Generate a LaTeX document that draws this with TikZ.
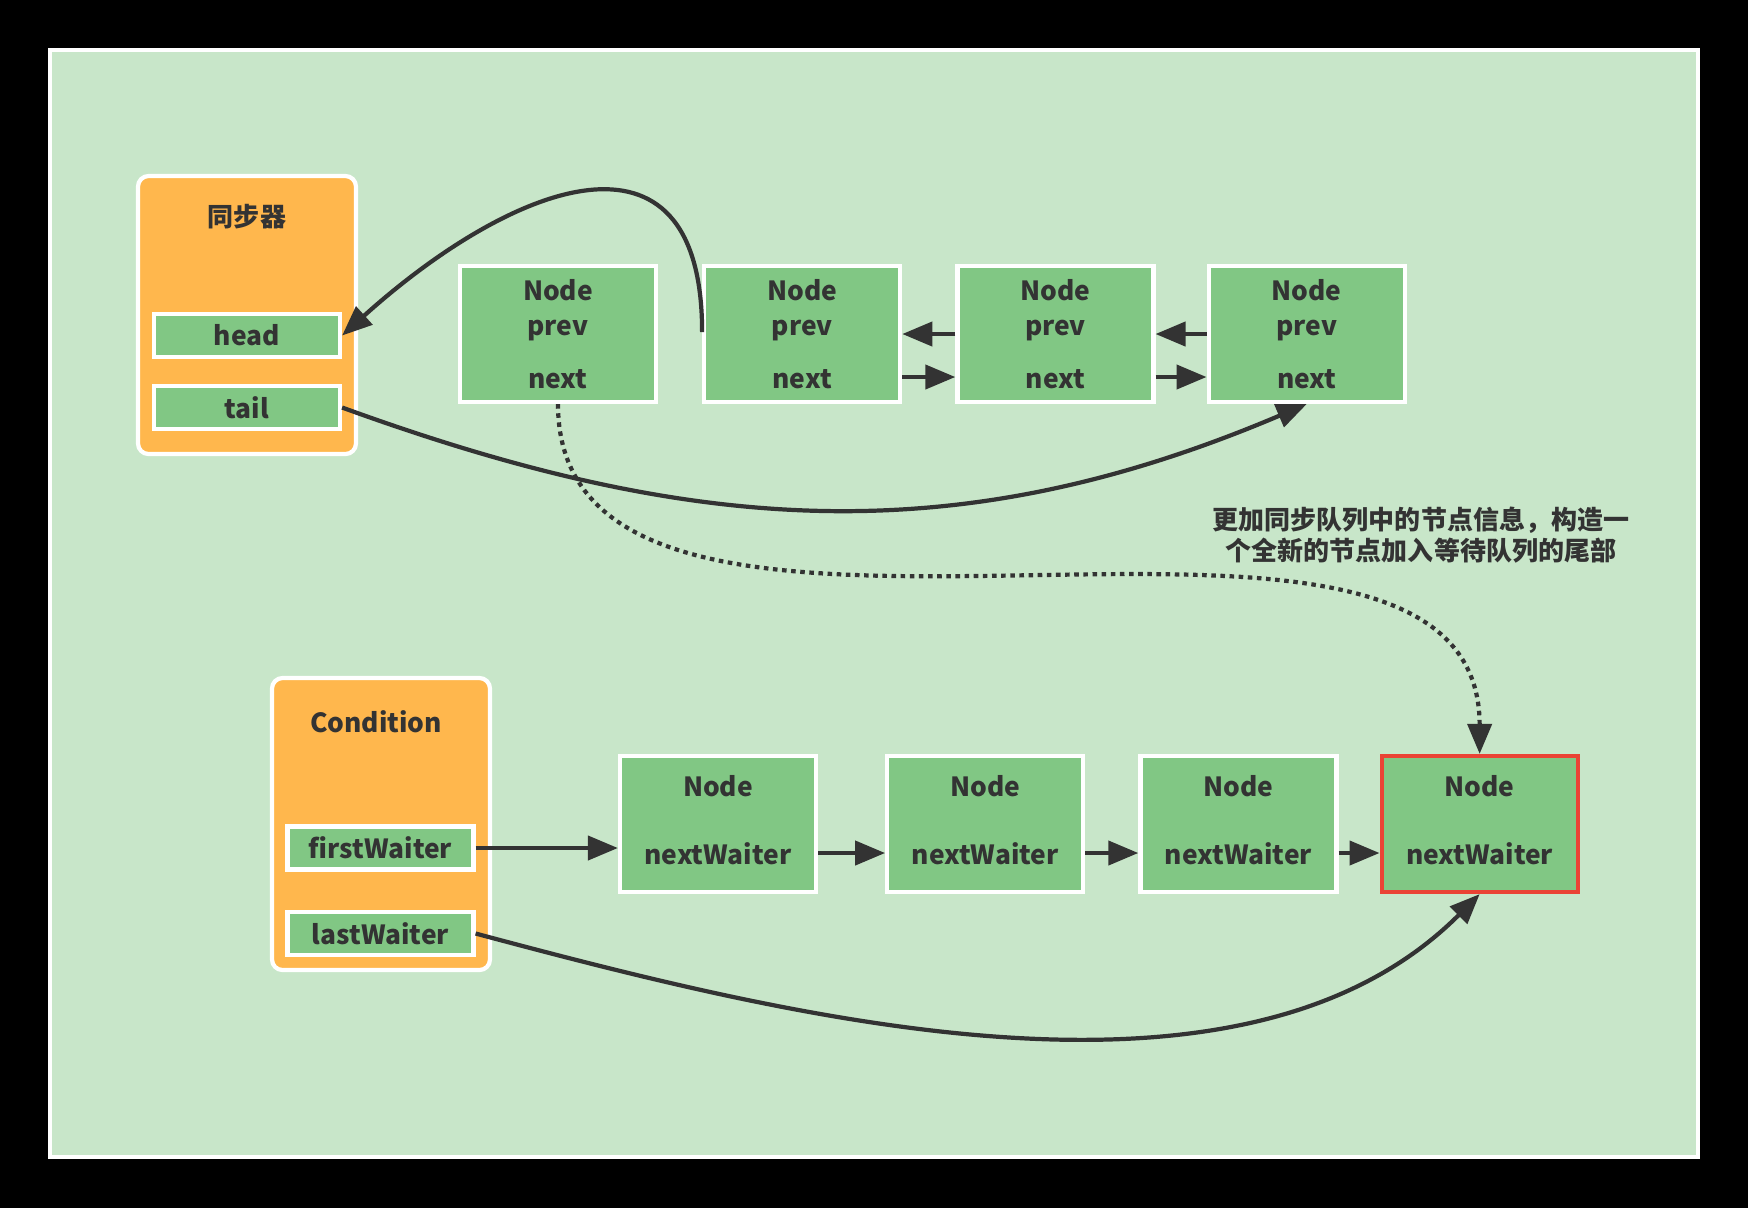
\documentclass[tikz,border=0pt]{standalone}
\usepackage{fontspec}
\setmainfont{Noto Sans CJK SC}
\usepackage{tikz}
\usetikzlibrary{arrows.meta,positioning}
\definecolor{aqsbg}{RGB}{200,230,201}
\definecolor{aqsgreen}{RGB}{129,199,132}
\definecolor{aqsorange}{RGB}{255,183,77}
\definecolor{aqsred}{RGB}{234,67,53}
\definecolor{aqsgray}{RGB}{51,51,51}

\begin{document}
\begin{tikzpicture}[
    node distance=0.5cm,
    every node/.style={text=aqsgray, font=\bfseries\fontsize{7.5}{10.2}\selectfont},
    cjk/.style={font=\bfseries\fontsize{7.4}{8.8}\selectfont, align=center},
    box/.style={rectangle, draw=white, line width=1.2pt, fill=aqsgreen, minimum width=1.96cm, minimum height=1.36cm, align=center, inner sep=0pt},
    waitbox/.style={box, text depth=0.08cm},
    holder/.style={rectangle, rounded corners=3pt, draw=white, line width=1.2pt, fill=aqsorange, minimum width=2.18cm},
    field/.style={rectangle, draw=white, line width=1.2pt, fill=aqsgreen, minimum width=1.86cm, minimum height=0.43cm, inner sep=0pt},
    arrow/.style={-{Triangle[length=0.3cm,width=0.24cm]}, line width=1.2pt, draw=aqsgray},
    dotarrow/.style={arrow, dash pattern=on 1.3pt off 1.3pt}
]
    % Canvas
    \useasboundingbox (0,0) rectangle (17.48,-12.08);
    \fill[black] (0,0) rectangle (17.48,-12.08);
    \draw[white, line width=0.04cm, fill=aqsbg] (0.50,-0.50) rectangle (16.98,-11.57);

    % Synchronizer
    \node[holder, minimum height=2.78cm] (sync) at (2.47,-3.15) {};
    \node[cjk] (synctitle) at (2.47,-2.17) {同步器};
    \node[field] (head) at (2.47,-3.355) {head};
    \node[field] (tail) at (2.47,-4.075) {tail};

    % Sync queue
    \node[box] (n1) at (5.58,-3.34) {Node\\prev\\[4.8pt]next};
    \node[box, right=0.44cm of n1] (n2) {Node\\prev\\[4.8pt]next};
    \node[box, right=0.53cm of n2] (n3) {Node\\prev\\[4.8pt]next};
    \node[box, right=0.51cm of n3] (n4) {Node\\prev\\[4.8pt]next};

    % Condition
    \node[holder, minimum height=2.92cm] (cond) at (3.81,-8.24) {};
    \node (condtitle) at (3.76,-7.22) {Condition};
    \node[field] (first) at (3.805,-8.48) {firstWaiter};
    \node[field] (last) at (3.805,-9.335) {lastWaiter};

    % Wait queue
    \node[waitbox] (w1) at (7.18,-8.24) {Node\\[9.4pt]nextWaiter};
    \node[waitbox, right=0.67cm of w1] (w2) {Node\\[9.4pt]nextWaiter};
    \node[waitbox, right=0.53cm of w2] (w3) {Node\\[9.4pt]nextWaiter};
    \node[waitbox, draw=aqsred, right=0.41cm of w3] (w4) {Node\\[9.4pt]nextWaiter};

    % Note
    \node[cjk] (note) at (14.21,-5.355) {更加同步队列中的节点信息，构造一\\个全新的节点加入等待队列的尾部};

    % Arrows
    \draw[arrow] (n3.west) -- (n2.east);
    \draw[arrow] (n4.west) -- (n3.east);
    \draw[arrow] ([yshift=-0.43cm]n2.east) -- ([yshift=-0.43cm]n3.west);
    \draw[arrow] ([yshift=-0.43cm]n3.east) -- ([yshift=-0.43cm]n4.west);
    \draw[arrow] ([yshift=0.02cm]n2.west) to[out=90, in=42, looseness=1.6] (head.east);
    \draw[arrow] (tail.east) to[out=-20, in=-157] (n4.south);
    \draw[dotarrow] (n1.south) .. controls +(0,-3.5) and +(0,3.5) .. (w4.north);

    \draw[arrow] (first.east) -- (first.east -| w1.west);
    \draw[arrow] ([yshift=-0.29cm]w1.east) -- ([yshift=-0.29cm]w2.west);
    \draw[arrow] ([yshift=-0.29cm]w2.east) -- ([yshift=-0.29cm]w3.west);
    \draw[arrow] ([yshift=-0.29cm]w3.east) -- ([yshift=-0.29cm]w4.west);
    \draw[arrow] (last.east) to[out=-15, in=225, looseness=0.85] (w4.south);
\end{tikzpicture}
\end{document}
